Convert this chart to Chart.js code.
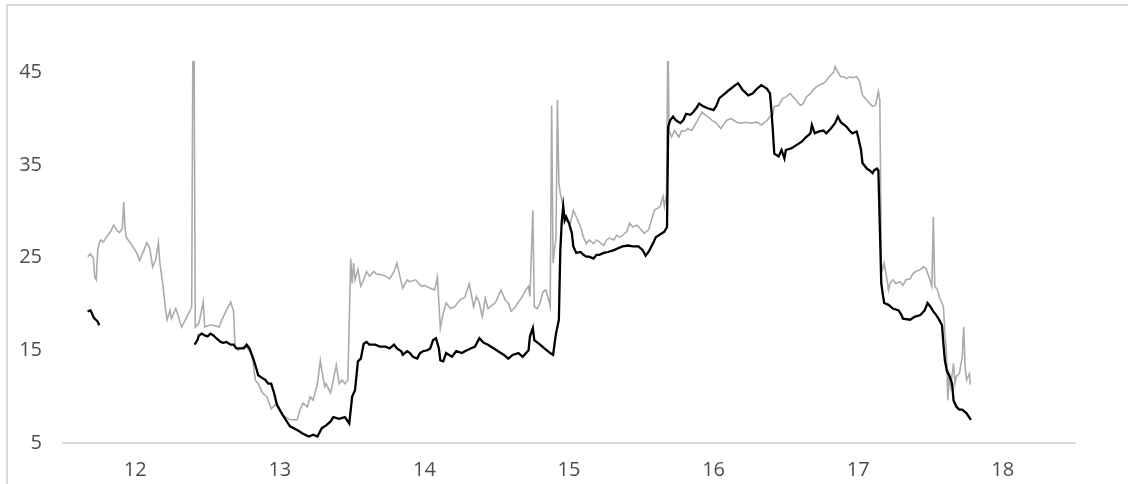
<!DOCTYPE html>
<html>
<head>
<meta charset="utf-8">
<script src="https://cdn.jsdelivr.net/npm/chart.js@4.4.1/dist/chart.umd.min.js"></script>
<style>
    html, body { margin: 0; padding: 0; background: #fff; overflow: hidden; }
    #frame {
        position: absolute; left: 6px; top: 4px;
        width: 1300px; height: 700px;
        border: 2px solid #d9d9d9;
    }
    #chart { position: absolute; left: 0; top: 0; }
</style>
</head>
<body>
<div id="frame"></div>
<canvas id="chart" width="1128" height="484"></canvas>
<script>
// Axis ticks
const xTicks = [12, 13, 14, 15, 16, 17, 18];
const yTicks = [5, 15, 25, 35, 45];

// Light gray series (x = day, y = value); spikes run past the top of the plot
const grayX = [
    11.67, 11.69, 11.71, 11.72, 11.73, 11.74, 11.75, 11.76, 11.78, 11.80, 11.83, 11.85, 11.87, 11.89, 11.91, 11.92, 11.93, 11.94, 11.97, 11.99,
    12.01, 12.03, 12.06, 12.08, 12.10, 12.12, 12.14, 12.16, 12.17, 12.19, 12.21, 12.22, 12.24, 12.25, 12.28, 12.30, 12.32, 12.35, 12.37, 12.39,
    12.399, 12.406, 12.415, 12.44, 12.47, 12.48, 12.51, 12.54, 12.58, 12.60, 12.63, 12.66, 12.68, 12.69, 12.71, 12.75, 12.78, 12.81, 12.83, 12.85,
    12.88, 12.91, 12.94, 12.98, 13.02, 13.07, 13.12, 13.14, 13.16, 13.19, 13.21, 13.23, 13.26, 13.28, 13.29, 13.31, 13.32, 13.35, 13.37, 13.39,
    13.41, 13.43, 13.45, 13.47, 13.48, 13.49, 13.50, 13.51, 13.52, 13.54, 13.56, 13.58, 13.60, 13.62, 13.65, 13.67, 13.69, 13.73, 13.76, 13.79,
    13.81, 13.83, 13.85, 13.88, 13.90, 13.94, 13.96, 13.98, 14.00, 14.04, 14.07, 14.09, 14.10, 14.11, 14.13, 14.15, 14.18, 14.21, 14.25, 14.28,
    14.31, 14.34, 14.36, 14.38, 14.40, 14.42, 14.44, 14.47, 14.49, 14.51, 14.53, 14.56, 14.58, 14.60, 14.63, 14.65, 14.67, 14.70, 14.72, 14.73,
    14.75, 14.76, 14.78, 14.80, 14.82, 14.84, 14.86, 14.87, 14.88, 14.89, 14.91, 14.92, 14.93, 14.94, 14.96, 14.97, 14.98, 15.01, 15.03, 15.05,
    15.08, 15.10, 15.12, 15.14, 15.17, 15.19, 15.21, 15.24, 15.26, 15.28, 15.31, 15.33, 15.35, 15.37, 15.40, 15.42, 15.44, 15.47, 15.50, 15.52,
    15.55, 15.57, 15.59, 15.63, 15.65, 15.66, 15.675, 15.684, 15.692, 15.71, 15.73, 15.76, 15.78, 15.80, 15.82, 15.85, 15.87, 15.89, 15.92, 15.94,
    15.96, 15.99, 16.02, 16.05, 16.09, 16.12, 16.16, 16.19, 16.23, 16.26, 16.30, 16.33, 16.37, 16.39, 16.41, 16.42, 16.45, 16.48, 16.50, 16.53,
    16.55, 16.57, 16.60, 16.62, 16.64, 16.67, 16.69, 16.71, 16.73, 16.76, 16.78, 16.80, 16.83, 16.84, 16.86, 16.88, 16.90, 16.92, 16.94, 16.96,
    16.99, 17.01, 17.03, 17.06, 17.08, 17.10, 17.12, 17.14, 17.15, 17.155, 17.16, 17.17, 17.18, 17.20, 17.21, 17.22, 17.24, 17.26, 17.29, 17.31,
    17.33, 17.36, 17.38, 17.40, 17.43, 17.45, 17.47, 17.49, 17.51, 17.52, 17.53, 17.55, 17.56, 17.59, 17.60, 17.61, 17.615, 17.62, 17.63, 17.64,
    17.66, 17.67, 17.68, 17.70, 17.72, 17.73, 17.74, 17.75, 17.77, 17.775
];
const grayY = [
    25.1, 25.4, 24.9, 22.9, 22.6, 25.8, 26.5, 26.9, 26.7, 27.2, 27.8, 28.5, 28.0, 27.7, 28.1, 31.0, 28.0, 27.1, 26.5, 26.0,
    25.5, 24.7, 25.8, 26.6, 26.0, 24.0, 24.7, 26.6, 24.4, 22.2, 19.3, 18.3, 19.3, 18.4, 19.5, 18.6, 17.5, 18.4, 19.0, 19.7,
    50, 50, 17.5, 17.9, 20.2, 17.5, 17.7, 17.7, 17.5, 18.3, 19.3, 20.2, 19.2, 15.4, 15.0, 15.4, 15.2, 14.3, 11.8, 11.4,
    10.4, 10.0, 8.7, 9.3, 8.0, 7.5, 7.5, 8.6, 9.3, 8.9, 10.0, 9.6, 11.4, 13.9, 12.9, 11.1, 11.4, 10.4, 11.8, 13.4,
    11.4, 11.8, 11.4, 11.8, 17.9, 24.9, 22.2, 24.4, 22.6, 23.7, 21.9, 22.6, 23.5, 23.0, 23.5, 23.2, 23.2, 23.0, 22.7, 23.5,
    24.4, 23.0, 21.7, 22.6, 22.4, 22.6, 22.2, 21.9, 22.0, 21.7, 21.5, 22.9, 20.1, 17.4, 19.0, 20.1, 19.5, 19.7, 20.5, 20.7,
    22.2, 19.7, 20.8, 20.1, 18.6, 20.6, 19.5, 19.9, 20.1, 20.8, 21.5, 20.4, 20.1, 19.2, 19.7, 20.2, 20.6, 21.5, 21.9, 20.8,
    30.1, 19.7, 19.5, 20.1, 21.3, 21.5, 20.4, 19.7, 41.4, 24.4, 27.2, 42.0, 33.0, 31.9, 30.5, 29.4, 29.0, 28.7, 30.1, 29.4,
    28.3, 27.2, 26.5, 26.9, 26.5, 26.9, 26.7, 26.3, 26.9, 27.1, 26.9, 27.4, 27.2, 27.4, 27.8, 28.7, 28.3, 28.5, 28.0, 27.6,
    28.0, 29.0, 30.1, 30.5, 31.6, 30.5, 31.9, 50, 38.7, 38.0, 38.7, 38.0, 38.7, 38.6, 38.9, 38.7, 39.3, 39.8, 40.7, 40.4,
    40.2, 39.8, 39.5, 38.9, 39.8, 40.0, 39.6, 39.5, 39.6, 39.5, 39.6, 39.3, 39.8, 40.2, 40.4, 41.3, 41.4, 42.2, 42.3, 42.7,
    42.3, 42.0, 41.4, 41.6, 42.3, 42.7, 43.1, 43.4, 43.6, 43.8, 44.1, 44.5, 45.0, 45.6, 45.0, 44.5, 44.5, 44.3, 44.5, 44.4,
    44.5, 44.0, 42.5, 42.0, 41.6, 41.3, 41.4, 42.9, 42.0, 33.7, 24.4, 23.7, 24.4, 22.6, 21.5, 22.2, 22.6, 22.2, 22.4, 22.0,
    22.6, 22.7, 23.3, 23.5, 23.7, 24.0, 23.8, 22.9, 21.9, 29.4, 21.9, 21.5, 20.8, 19.7, 16.8, 15.0, 12.9, 9.6, 12.2, 11.1,
    13.6, 11.4, 12.2, 12.5, 14.3, 17.5, 13.2, 11.8, 12.5, 11.3
];

// Black series; null marks the break after the first short stretch
const blackX = [
    11.67, 11.69, 11.70, 11.71, 11.72, 11.74, 11.75, 12.00,
    12.41, 12.43, 12.44, 12.46, 12.48, 12.50, 12.52, 12.54, 12.56, 12.59, 12.61, 12.63, 12.66, 12.68, 12.70, 12.73, 12.75, 12.77, 12.79, 12.82,
    12.84, 12.85, 12.88, 12.90, 12.92, 12.94, 12.96, 12.98, 13.02, 13.07, 13.12, 13.16, 13.20, 13.23, 13.26, 13.29, 13.32, 13.35, 13.37, 13.41,
    13.45, 13.48, 13.50, 13.52, 13.54, 13.56, 13.58, 13.60, 13.62, 13.66, 13.69, 13.73, 13.76, 13.79, 13.81, 13.84, 13.85, 13.88, 13.90, 13.92,
    13.95, 13.97, 13.99, 14.02, 14.04, 14.06, 14.08, 14.10, 14.11, 14.13, 14.15, 14.19, 14.22, 14.26, 14.28, 14.32, 14.35, 14.38, 14.41, 14.44,
    14.48, 14.51, 14.55, 14.58, 14.61, 14.65, 14.68, 14.72, 14.73, 14.75, 14.76, 14.80, 14.83, 14.87, 14.89, 14.90, 14.91, 14.93, 14.935, 14.94,
    14.95, 14.96, 14.97, 14.98, 15.00, 15.02, 15.03, 15.05, 15.08, 15.10, 15.12, 15.14, 15.17, 15.19, 15.21, 15.24, 15.27, 15.31, 15.34, 15.37,
    15.41, 15.44, 15.48, 15.51, 15.53, 15.55, 15.58, 15.60, 15.64, 15.66, 15.678, 15.686, 15.70, 15.72, 15.74, 15.77, 15.79, 15.81, 15.84, 15.86,
    15.88, 15.90, 15.93, 15.96, 16.00, 16.02, 16.04, 16.08, 16.11, 16.15, 16.17, 16.20, 16.24, 16.27, 16.30, 16.33, 16.37, 16.39, 16.40, 16.41,
    16.42, 16.45, 16.47, 16.49, 16.50, 16.54, 16.57, 16.61, 16.64, 16.67, 16.68, 16.70, 16.73, 16.76, 16.78, 16.81, 16.84, 16.86, 16.88, 16.92,
    16.94, 16.96, 16.99, 17.00, 17.02, 17.03, 17.06, 17.08, 17.10, 17.11, 17.13, 17.14, 17.16, 17.17, 17.18, 17.21, 17.24, 17.28, 17.30, 17.31,
    17.36, 17.39, 17.43, 17.46, 17.48, 17.50, 17.52, 17.54, 17.56, 17.58, 17.59, 17.60, 17.615, 17.63, 17.65, 17.66, 17.68, 17.70, 17.72, 17.75,
    17.78
];
const blackY = [
    19.2, 19.3, 19.0, 18.6, 18.4, 18.1, 17.7, null,
    15.6, 16.1, 16.6, 16.8, 16.6, 16.5, 16.8, 16.6, 16.3, 15.9, 15.8, 15.9, 15.6, 15.6, 15.2, 15.2, 15.2, 15.6, 15.2, 13.9,
    12.9, 12.3, 12.0, 11.8, 11.4, 11.4, 10.4, 9.1, 8.0, 6.8, 6.4, 6.0, 5.7, 5.9, 5.7, 6.6, 6.9, 7.3, 7.8, 7.6,
    7.8, 7.1, 10.0, 10.7, 13.8, 14.1, 15.7, 15.9, 15.6, 15.6, 15.4, 15.4, 15.2, 15.6, 15.2, 14.9, 14.5, 14.9, 14.7, 14.3,
    14.1, 14.7, 14.9, 15.0, 15.2, 16.1, 16.3, 15.2, 13.9, 13.8, 14.7, 14.3, 14.9, 14.7, 14.9, 15.2, 15.4, 16.3, 15.8, 15.6,
    15.2, 14.9, 14.5, 14.1, 14.5, 14.7, 14.3, 15.0, 16.5, 17.4, 16.1, 15.6, 15.2, 14.7, 14.5, 15.7, 16.8, 18.3, 22.2, 25.8,
    28.9, 30.5, 29.0, 29.4, 28.7, 27.6, 26.2, 25.5, 25.6, 25.3, 25.1, 25.1, 24.9, 25.3, 25.3, 25.5, 25.6, 25.8, 26.0, 26.2,
    26.3, 26.2, 26.2, 25.8, 25.2, 25.6, 26.5, 27.2, 27.6, 27.8, 28.3, 39.1, 39.8, 40.2, 39.8, 39.5, 39.8, 40.5, 40.4, 40.7,
    41.1, 41.6, 41.3, 41.1, 40.9, 41.4, 42.2, 42.7, 43.1, 43.6, 43.8, 43.1, 42.5, 42.7, 43.2, 43.6, 43.2, 42.7, 40.9, 38.7,
    36.2, 35.9, 36.6, 35.7, 36.6, 36.8, 37.1, 37.5, 38.0, 38.4, 39.3, 38.4, 38.6, 38.7, 38.4, 38.9, 39.5, 40.2, 39.6, 39.1,
    38.7, 38.4, 38.6, 38.0, 36.6, 35.2, 34.6, 34.4, 34.1, 34.4, 34.6, 34.4, 22.2, 21.1, 20.1, 19.9, 19.5, 19.3, 18.8, 18.4,
    18.3, 18.6, 18.8, 19.3, 20.1, 19.7, 19.2, 18.8, 18.3, 17.7, 15.7, 13.9, 12.7, 12.3, 11.4, 9.6, 8.9, 8.6, 8.6, 8.2,
    7.5
];

const toPoints = (xs, ys) => xs.map((x, i) => ({ x: x, y: ys[i] }));

const labelFont = { family: 'Open Sans', size: 20 };

const ctx = document.getElementById('chart').getContext('2d');
const chart = new Chart(ctx, {
    type: 'line',
    data: {
        datasets: [
            {
                label: 'black',
                data: toPoints(blackX, blackY),
                borderColor: '#000000',
                borderWidth: 2.3,
                pointRadius: 0,
                tension: 0,
                spanGaps: false
            },
            {
                label: 'gray',
                data: toPoints(grayX, grayY),
                borderColor: '#ababab',
                borderWidth: 1.6,
                pointRadius: 0,
                tension: 0
            }
        ]
    },
    options: {
        responsive: false,
        animation: false,
        devicePixelRatio: 1,
        layout: {
            padding: { left: 0, right: 53, top: 61, bottom: 0 }
        },
        plugins: {
            legend: { display: false },
            tooltip: { enabled: false }
        },
        scales: {
            x: {
                type: 'linear',
                min: 11.5,
                max: 18.5,
                grid: { display: false, drawTicks: false },
                border: { display: true, color: '#d9d9d9', width: 2 },
                afterBuildTicks: function(scale) {
                    scale.ticks = xTicks.map(v => ({ value: v }));
                },
                afterFit: function(scale) {
                    scale.height = 41;
                },
                ticks: {
                    color: '#4d4d4d',
                    font: labelFont,
                    padding: 15,
                    maxRotation: 0,
                    autoSkip: false
                }
            },
            y: {
                type: 'linear',
                min: 5,
                max: 46.2,
                grid: { display: false, drawTicks: false },
                border: { display: false },
                afterBuildTicks: function(scale) {
                    scale.ticks = yTicks.map(v => ({ value: v }));
                },
                afterFit: function(scale) {
                    scale.width = 63;
                },
                ticks: {
                    color: '#4d4d4d',
                    font: labelFont,
                    padding: 21,
                    autoSkip: false
                }
            }
        }
    }
});
</script>
</body>
</html>
